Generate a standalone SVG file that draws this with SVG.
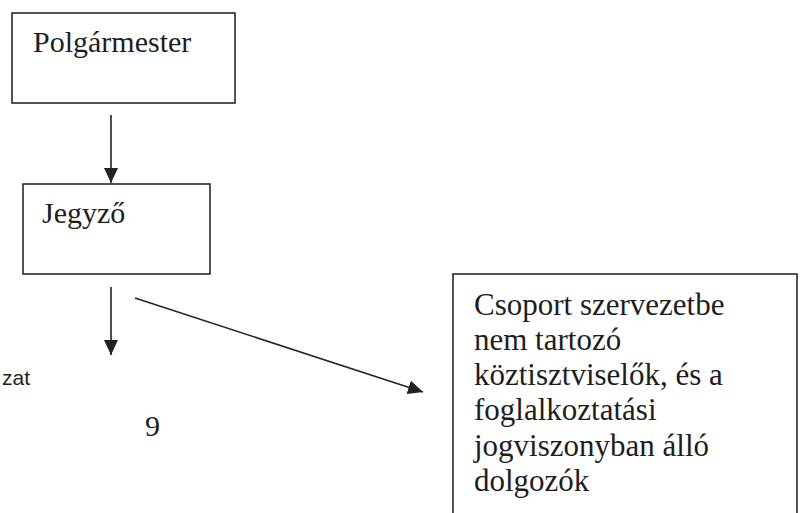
<svg xmlns="http://www.w3.org/2000/svg" width="801" height="513" viewBox="0 0 801 513">
<style>
.box{fill:#fff;stroke:#2a2a2a;stroke-width:1.6}
.t{font-family:"Liberation Serif","Times New Roman",serif;fill:#1e1e1e}
.s{font-family:"Liberation Sans",Arial,sans-serif;fill:#1e1e1e}
.c{stroke:#222;stroke-width:1.6;fill:none;marker-end:url(#ah)}
</style>
<defs>
<marker id="ah" markerUnits="userSpaceOnUse" markerWidth="16" markerHeight="14" refX="15" refY="7" orient="auto">
<path d="M0,0 L15,7 L0,14 Z" fill="#222"/>
</marker>
</defs>
<rect width="801" height="513" fill="#fff"/>
<g id="polgarmester">
<rect class="box" x="12" y="13" width="223" height="90"/>
<text class="t" x="33" y="52" font-size="30">Polgármester</text>
</g>
<g id="jegyzo">
<rect class="box" x="23" y="184" width="187" height="90"/>
<text class="t" x="42" y="223" font-size="30">Jegyző</text>
</g>
<g id="csoport">
<rect class="box" x="453" y="274" width="344" height="250"/>
<text class="t" font-size="31">
<tspan x="474" y="315">Csoport szervezetbe</tspan>
<tspan x="474" y="350">nem tartozó</tspan>
<tspan x="474" y="385">köztisztviselők, és a</tspan>
<tspan x="474" y="420">foglalkoztatási</tspan>
<tspan x="474" y="456">jogviszonyban álló</tspan>
<tspan x="474" y="491">dolgozók</tspan>
</text>
</g>
<g id="labels">
<text class="s" x="2" y="385" font-size="21">zat</text>
<text class="t" x="145" y="436" font-size="30">9</text>
</g>
<g id="connectors">
<line class="c" x1="111" y1="115" x2="111" y2="183"/>
<line class="c" x1="111" y1="287" x2="111" y2="355"/>
<line class="c" x1="135" y1="298" x2="423" y2="392"/>
</g>
</svg>
